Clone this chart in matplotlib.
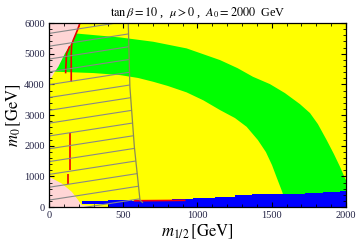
import matplotlib
matplotlib.use('Agg')
import matplotlib.pyplot as plt
import numpy as np
from matplotlib.patches import Polygon

plt.rcParams['font.family'] = ['Liberation Serif', 'DejaVu Serif']
plt.rcParams['mathtext.fontset'] = 'stix'

# region boundaries, (m_1/2, m_0) in GeV
green_out_x = [0, 175, 478, 702, 927, 1152, 1270, 1374, 1488, 1589, 1690, 1758, 1811,
               1870, 1919, 1960, 1993, 2000, 2000]
green_out_y = [5700, 5663, 5532, 5391, 5174, 4793, 4530, 4248, 4010, 3717, 3358, 3065, 2706,
               2185, 1728, 1314, 946, 880, 0]
green_in_x = [0, 52, 300, 478, 600, 702, 800, 927, 1040, 1152, 1253, 1331, 1407, 1461,
              1502, 1535, 1569, 1589, 1600]
green_in_y = [4450, 4413, 4370, 4304, 4210, 4086, 3950, 3740, 3480, 3163, 2902, 2618, 2185, 1793,
              1369, 946, 520, 230, 0]

pink_top_x = [0, 209, 190, 164, 108, 63, 40, 7, 0]
pink_top_y = [6000, 6000, 5750, 5446, 5011, 4576, 4413, 4141, 4100]
pink_low_x = [0, 0, 85, 153, 197, 220, 397]
pink_low_y = [0, 989, 772, 500, 228, 65, 0]

blue_x = [220, 397, 560, 826, 972, 1118, 1253, 1365, 1488, 1724, 1847, 1960, 2000]
blue_top = [205, 215, 190, 250, 304, 337, 381, 413, 434, 456, 489, 522, 522]
blue_bot = [110, 0, 0, 0, 0, 0, 0, 0, 0, 0, 0, 0, 0]

red_strip_x = [568, 916]
red_strip_lo = [195, 210]
red_strip_hi = [250, 262]

red_lines = [
    ([209, 190, 164, 153, 150, 150], [6000, 5750, 5446, 5300, 5000, 4086]),
    ([140, 118, 112], [5250, 5000, 4360]),
    ([141, 141], [2403, 1206]),
    ([130, 130], [1076, 750]),
    ([0, 8], [2840, 2840]),
]

hatch_edge_x = [534, 545, 575, 613, 630]
hatch_edge_y = [6000, 3923, 1966, 228, 150]

fig = plt.figure(figsize=(3.6, 2.48), dpi=100)
ax = fig.add_axes([0.136, 0.165, 0.825, 0.742])
ax.set_facecolor('#ffff00')

gx = green_out_x + green_in_x[::-1]
gy = green_out_y + green_in_y[::-1]
ax.fill(gx, gy, color='#00ff00', lw=0)
ax.fill(pink_top_x, pink_top_y, color='#ffd5d5', lw=0)
ax.fill(pink_low_x, pink_low_y, color='#ffd5d5', lw=0)
ax.fill_between(blue_x, blue_bot, blue_top, step='post', color='#0000ff', lw=0)
ax.fill_between(red_strip_x, red_strip_lo, red_strip_hi, color='#ff0000', lw=0)
for xs, ys in red_lines:
    ax.plot(xs, ys, color='#ee0000', lw=1.2, solid_capstyle='butt')

# hatched region left of the gray line
clip = Polygon(list(zip([0, 0] + hatch_edge_x, [0, 6000] + hatch_edge_y)) + [(640, 0)],
               closed=True, transform=ax.transData, fill=False, lw=0)
ax.add_patch(clip)
hx = np.array([0, 700])
for y0 in np.arange(228 - 418, 6400, 418):
    ln, = ax.plot(hx, y0 + 0.75 * hx, color='#888888', lw=0.8)
    ln.set_clip_path(clip)
ax.plot(hatch_edge_x, hatch_edge_y, color='#8a8a55', lw=0.9)

ax.set_xlim(0, 2000)
ax.set_ylim(0, 6000)
ax.set_xticks([0, 500, 1000, 1500, 2000])
ax.set_yticks([0, 1000, 2000, 3000, 4000, 5000, 6000])
ax.set_xticks(np.arange(0, 2001, 100), minor=True)
ax.set_yticks(np.arange(0, 6001, 200), minor=True)
ax.tick_params(which='both', direction='in', top=True, right=True,
               labelsize=7.5, labelcolor='#222244', pad=3)
ax.tick_params(which='major', length=3.5, width=0.8)
ax.tick_params(which='minor', length=2, width=0.6)
for s in ax.spines.values():
    s.set_linewidth(0.9)

ax.set_title(r'$\tan\beta=10$ ,  $\mu>0$ ,  $A_0=2000$  GeV', fontsize=8.8, pad=5)
ax.set_xlabel(r'$m_{1/2}\,[\mathrm{GeV}]$', fontsize=12, labelpad=2)
ax.set_ylabel(r'$m_0\,[\mathrm{GeV}]$', fontsize=12, labelpad=1)

fig.savefig('out.png', dpi=100)
